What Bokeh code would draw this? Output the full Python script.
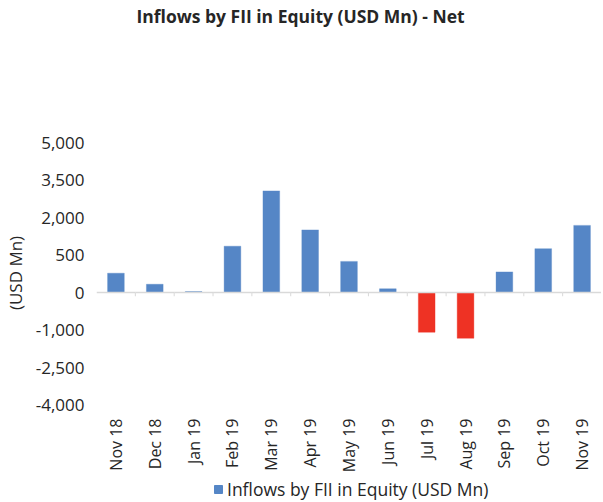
import math
from bokeh.plotting import figure
from bokeh.models import (ColumnDataSource, FactorRange, Range1d, FixedTicker,
                          Legend, LegendItem)
from bokeh.transform import dodge
from bokeh.layouts import column
from bokeh.embed import file_html
from bokeh.resources import INLINE

# ---- data (axis units: evenly spaced ticks, labels as printed on the chart) ----
months = ["Nov 18", "Dec 18", "Jan 19", "Feb 19", "Mar 19", "Apr 19", "May 19",
          "Jun 19", "Jul 19", "Aug 19", "Sep 19", "Oct 19", "Nov 19"]
inflows = [515, 220, 25, 1235, 2710, 1670, 830, 100, -1060, -1220, 550, 1170, 1790]
tick_values = [-3000, -2000, -1000, 0, 1000, 2000, 3000, 4000]
tick_labels = ["-4,000", "-2,500", "-1,000", "0", "500", "2,000", "3,500", "5,000"]
series_name = "Inflows by FII in Equity (USD Mn)"
title_text = "Inflows by FII in Equity (USD Mn) - Net"

FONT = "Open Sans"
TXT = "#262626"
BLUE = "#5586C6"
RED = "#EE3224"

colors = [BLUE if v >= 0 else RED for v in inflows]
src = ColumnDataSource(dict(month=months, val=inflows, color=colors,
                            zero=[0] * len(months), tick=[-100] * len(months)))

# title strip
p0 = figure(frame_width=589, frame_height=1, output_backend="svg", toolbar_location=None,
            x_axis_location=None, y_axis_location=None,
            min_border_left=0, min_border_right=0, min_border_top=0, min_border_bottom=0,
            outline_line_color=None, title=title_text)
p0.xgrid.visible = False
p0.ygrid.visible = False
p0.title.align = "left"
p0.title.offset = 40
p0.title.standoff = 2
p0.title.text_font = FONT
p0.title.text_font_size = "17.5px"
p0.title.text_font_style = "bold"
p0.title.text_color = TXT

p = figure(frame_width=505, frame_height=267, output_backend="svg", toolbar_location=None,
           x_range=FactorRange(*months, range_padding=0),
           y_range=Range1d(-3040, 4080),
           min_border_left=84, min_border_right=0, min_border_top=110,
           min_border_bottom=68, outline_line_color=None)

bars = p.vbar(x="month", top="val", bottom=0, width=0.43, source=src,
              fill_color="color", line_color="color", line_alpha=0.35, line_width=1)

# zero line and category boundary ticks
p.segment(x0=dodge("month", -0.5, range=p.x_range), x1=dodge("month", 0.5, range=p.x_range),
          y0="zero", y1="zero", source=src, line_color="#D9D9D9", line_width=1.5)
p.segment(x0=dodge("month", 0.5, range=p.x_range), x1=dodge("month", 0.5, range=p.x_range),
          y0="zero", y1="tick", source=src, line_color="#D9D9D9", line_width=1)

p.xgrid.visible = False
p.ygrid.visible = False

ya = p.yaxis[0]
ya.ticker = FixedTicker(ticks=tick_values)
ya.major_label_overrides = {v: l for v, l in zip(tick_values, tick_labels)}
ya.axis_line_color = None
ya.major_tick_line_color = None
ya.minor_tick_line_color = None
ya.major_label_text_font = FONT
ya.major_label_text_font_size = "17px"
ya.major_label_text_color = TXT
ya.major_label_standoff = 6
ya.axis_label = "(USD Mn)"
ya.axis_label_text_font = FONT
ya.axis_label_text_font_size = "17px"
ya.axis_label_text_font_style = "normal"
ya.axis_label_text_color = TXT
ya.axis_label_standoff = 6

xa = p.xaxis[0]
xa.axis_line_color = None
xa.major_tick_line_color = None
xa.minor_tick_line_color = None
xa.major_label_orientation = math.pi / 2
xa.major_label_text_font = FONT
xa.major_label_text_font_size = "16px"
xa.major_label_text_color = TXT
xa.major_label_standoff = 6

# legend strip under the chart: same bars, drawn in a y-window where none is visible
p2 = figure(frame_width=589, frame_height=26, output_backend="svg", toolbar_location=None,
            x_range=p.x_range, y_range=Range1d(10000, 11000),
            x_axis_location=None, y_axis_location=None,
            min_border_left=0, min_border_right=0, min_border_top=0, min_border_bottom=0,
            outline_line_color=None)
p2.xgrid.visible = False
p2.ygrid.visible = False
key = p2.vbar(x="month", top="val", bottom=0, width=0.43, source=src,
              fill_color="color", line_color="color")
legend = Legend(items=[LegendItem(label=series_name, renderers=[key], index=0)],
                orientation="horizontal", location=(213, 0),
                border_line_color=None, background_fill_alpha=0,
                label_text_font=FONT, label_text_font_size="17.5px",
                label_text_color=TXT, glyph_width=10, glyph_height=10,
                label_standoff=4, padding=0, margin=0)
p2.add_layout(legend, "center")

layout = column(p0, p, p2, spacing=0)
open("out.html", "w").write(file_html(layout, INLINE))
